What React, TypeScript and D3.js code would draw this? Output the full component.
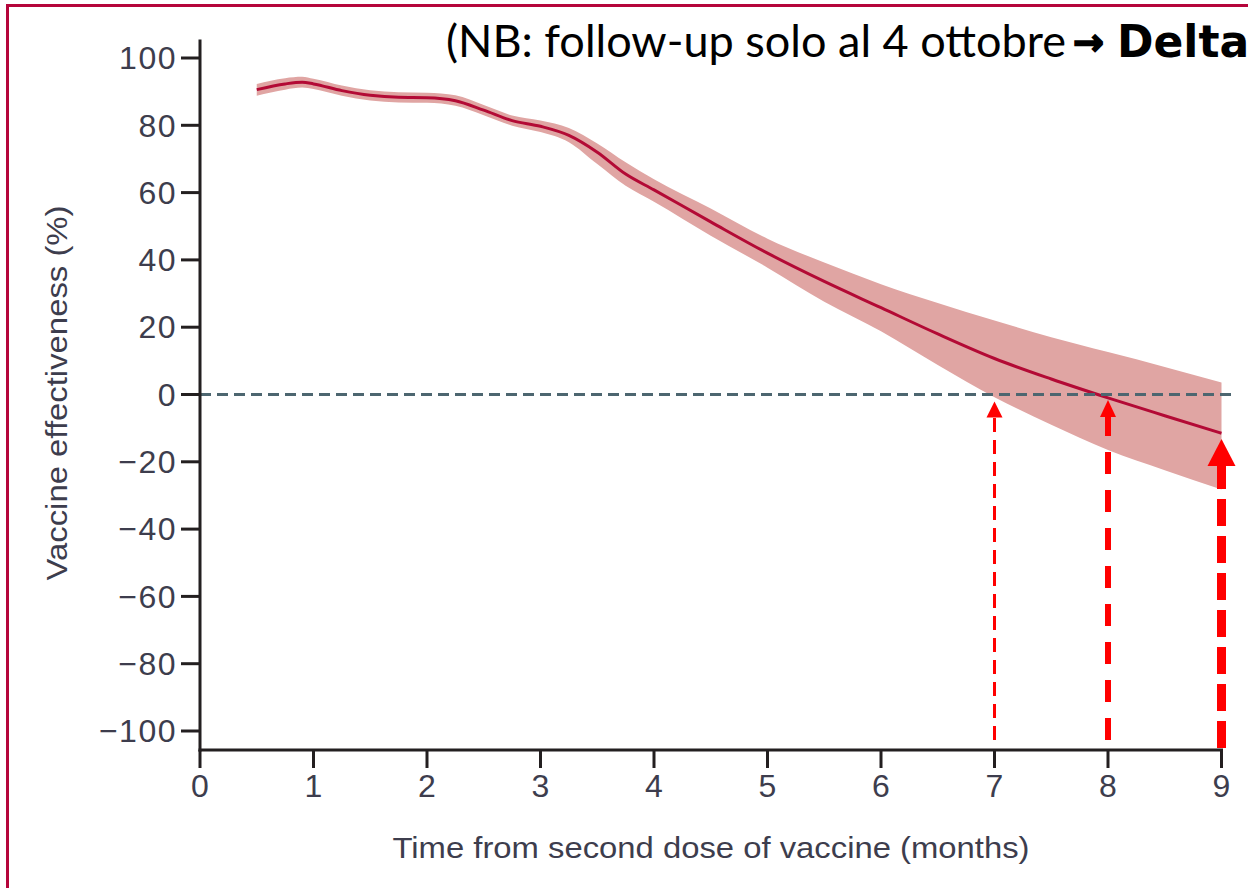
import React from "react";
import * as d3 from "d3";

const width = 1248;
const height = 888;

// months since second dose, vaccine effectiveness (%) and its 95% CI
const months = [0.5, 0.75, 0.9, 1.0, 1.25, 1.5, 1.75, 2.0, 2.25, 2.5, 2.75, 3.0, 3.25, 3.5, 3.75, 4.0, 4.5, 5.0, 5.5, 6.0, 6.5, 7.0, 7.5, 8.0, 8.5, 9.0];
const effectiveness = [90.6, 92.3, 92.8, 92.3, 90.3, 88.9, 88.3, 88.2, 87.3, 84.5, 81.4, 79.7, 77.0, 72.0, 65.5, 60.8, 51.3, 42.0, 33.6, 25.8, 18.0, 10.7, 4.6, -1.0, -6.3, -11.5];
const ciLower = [88.8, 90.6, 91.2, 90.8, 88.8, 87.4, 86.8, 86.7, 85.8, 83.0, 79.9, 78.0, 75.0, 68.5, 62.0, 57.3, 47.2, 37.7, 27.6, 18.8, 8.8, -0.8, -9.0, -16.5, -22.5, -28.2];
const ciUpper = [92.3, 94.0, 94.4, 93.8, 91.8, 90.4, 89.8, 89.7, 88.9, 86.0, 82.9, 81.4, 79.2, 74.6, 69.0, 64.0, 55.3, 46.3, 39.2, 32.8, 27.2, 22.0, 17.0, 12.6, 8.2, 3.6];

const xTicks = [0, 1, 2, 3, 4, 5, 6, 7, 8, 9];
const yTicks = [100, 80, 60, 40, 20, 0, -20, -40, -60, -80, -100];

// red annotation arrows: month and value the tip points at
const arrowMonths = [7, 8, 9];
const arrowTips = [-2.1, -1.6, -13.2];

const arrowStyles = [
  { stroke: 3, dash: "14 8", headW: 16, headL: 16, bottom: 740 },
  { stroke: 6, dash: "22 16", headW: 16, headL: 17, bottom: 740 },
  { stroke: 9, dash: "27 10", headW: 28, headL: 27, bottom: 748 },
];

const textColor = "#3d3d4d";
const axisColor = "#231f20";
const font = "'Liberation Sans', Arial, sans-serif";

const x = d3.scaleLinear().domain([0, 9]).range([200, 1221.5]);
const y = d3.scaleLinear().domain([-100, 100]).range([731, 58]);

const App = () => {
  const rows = months.map((m, i) => ({
    m,
    v: effectiveness[i],
    lo: ciLower[i],
    hi: ciUpper[i],
  }));

  const band = d3
    .area<any>()
    .x((d) => x(d.m))
    .y0((d) => y(d.lo))
    .y1((d) => y(d.hi))
    .curve(d3.curveMonotoneX);

  const line = d3
    .line<any>()
    .x((d) => x(d.m))
    .y((d) => y(d.v))
    .curve(d3.curveMonotoneX);

  const axisY = 750;

  return (
    <svg
      width={width}
      height={height}
      viewBox={`0 0 ${width} ${height}`}
      style={{ position: "absolute", left: 0, top: 0, display: "block", background: "#fff" }}
    >
      {/* frame */}
      <line x1={7.5} y1={5.5} x2={7.5} y2={height} stroke="#b5053b" strokeWidth={3} />
      <line x1={6} y1={5.5} x2={width} y2={5.5} stroke="#b5053b" strokeWidth={3} />

      {/* note (runs off the right edge like the original slide) */}
      <text x={446} y={57} fontFamily="Lato, 'Open Sans', sans-serif" fontSize={44} fill="#000">
        <tspan textLength={620} lengthAdjust="spacingAndGlyphs">(NB: follow-up solo al 4 ottobre</tspan>
        <tspan
          x={1073}
          y={55}
          fontFamily="'DejaVu Sans', sans-serif"
          fontWeight={700}
          fontSize={37}
          stroke="#000"
          strokeWidth={1.6}
        >
          →
        </tspan>
        <tspan x={1117} y={57} fontFamily="'DejaVu Sans', sans-serif" fontWeight={700} fontSize={44}>
          Delta
        </tspan>
      </text>

      {/* CI band and estimate */}
      <path d={band(rows) as string} fill="#e0a5a3" />
      <path d={line(rows) as string} fill="none" stroke="#b30a35" strokeWidth={3} />

      {/* zero reference */}
      <line
        x1={200}
        x2={1235}
        y1={y(0)}
        y2={y(0)}
        stroke="#4d6670"
        strokeWidth={3}
        strokeDasharray="11 6"
      />

      {/* arrows */}
      {arrowMonths.map((m, i) => {
        const s = arrowStyles[i];
        const ax = x(m);
        const tip = y(arrowTips[i]);
        const base = tip + s.headL;
        return (
          <g key={m}>
            <line
              x1={ax}
              x2={ax}
              y1={s.bottom}
              y2={base - 1}
              stroke="#ff0000"
              strokeWidth={s.stroke}
              strokeDasharray={s.dash}
            />
            <polygon
              points={`${ax},${tip} ${ax - s.headW / 2},${base} ${ax + s.headW / 2},${base}`}
              fill="#ff0000"
            />
          </g>
        );
      })}

      {/* y axis */}
      <line x1={200} x2={200} y1={y(105.5)} y2={axisY + 1.5} stroke={axisColor} strokeWidth={3} />
      {yTicks.map((t) => (
        <g key={t} transform={`translate(0,${y(t)})`}>
          <line x1={181} x2={200} stroke={axisColor} strokeWidth={3} />
          <text
            x={177}
            dy="0.35em"
            textAnchor="end"
            fontFamily={font}
            fontSize={32}
            letterSpacing={1.5}
            fill={textColor}
          >
            {t < 0 ? `\u2212${Math.abs(t)}` : t}
          </text>
        </g>
      ))}

      {/* x axis */}
      <line x1={198.5} x2={x(9) + 1.5} y1={axisY} y2={axisY} stroke={axisColor} strokeWidth={3} />
      {xTicks.map((t) => (
        <g key={t} transform={`translate(${x(t)},0)`}>
          <line y1={axisY} y2={axisY + 18} stroke={axisColor} strokeWidth={3} />
          <text y={797} textAnchor="middle" fontFamily={font} fontSize={32} fill={textColor}>
            {t}
          </text>
        </g>
      ))}

      {/* axis titles */}
      <text
        x={711}
        y={858}
        textAnchor="middle"
        fontFamily={font}
        fontSize={30}
        textLength={637}
        lengthAdjust="spacingAndGlyphs"
        fill={textColor}
      >
        Time from second dose of vaccine (months)
      </text>
      <text
        transform="translate(67,393) rotate(-90)"
        textAnchor="middle"
        fontFamily={font}
        fontSize={30}
        textLength={375}
        lengthAdjust="spacingAndGlyphs"
        fill={textColor}
      >
        Vaccine effectiveness (%)
      </text>
    </svg>
  );
};

export default App;
